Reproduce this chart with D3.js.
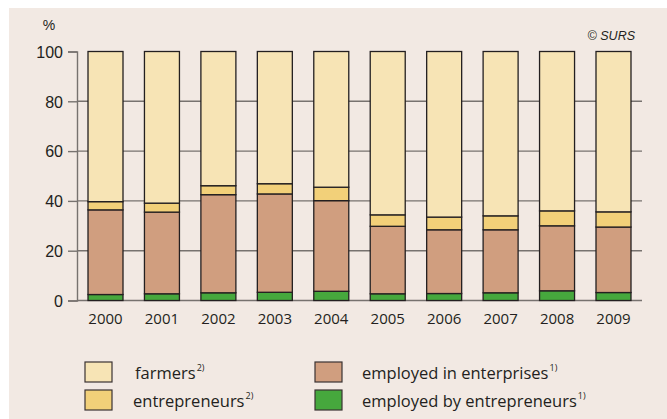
<!DOCTYPE html>
<html>
<head>
<meta charset="utf-8">
<script src="https://cdn.jsdelivr.net/npm/d3@7"></script>
<style>
  html, body { margin: 0; padding: 0; background: #ffffff; }
  svg { display: block; }
</style>
</head>
<body>
<svg id="chart" width="667" height="419"></svg>
<script>
// Structure of employment, share in %
const years = ["2000", "2001", "2002", "2003", "2004", "2005", "2006", "2007", "2008", "2009"];
const employedByEntrepreneurs = [2.4, 2.7, 3.1, 3.3, 3.7, 2.7, 2.8, 3.1, 3.9, 3.2];
const employedInEnterprises   = [34.0, 32.8, 39.4, 39.5, 36.4, 27.1, 25.6, 25.3, 26.1, 26.3];
const entrepreneurs           = [3.3, 3.6, 3.6, 4.1, 5.4, 4.6, 5.1, 5.6, 6.0, 6.1];
const farmers                 = [60.3, 60.9, 53.9, 53.1, 54.5, 65.6, 66.5, 66.0, 64.0, 64.4];
const yTicks = [0, 20, 40, 60, 80, 100];

// Stack order from the bottom up
const seriesKeys = ["employedByEntrepreneurs", "employedInEnterprises", "entrepreneurs", "farmers"];
const seriesValues = { employedByEntrepreneurs, employedInEnterprises, entrepreneurs, farmers };
const colors = {
  farmers: "#f7e4b5",
  entrepreneurs: "#f2d079",
  employedInEnterprises: "#d09e7f",
  employedByEntrepreneurs: "#46a83d"
};

const rows = years.map((y, i) => {
  const r = { year: y };
  seriesKeys.forEach(k => { r[k] = seriesValues[k][i]; });
  return r;
});
const stacked = d3.stack().keys(seriesKeys)(rows);

const svg = d3.select("#chart");

// panel background
svg.append("rect")
  .attr("x", 9).attr("y", 8).attr("width", 658).attr("height", 411)
  .attr("fill", "#f2e9e3");

const x = d3.scaleBand().domain(years).range([77, 642]).paddingInner(0.38).paddingOuter(0.195);
const y = d3.scaleLinear().domain([0, 100]).range([300.5, 51.5]);

const gridColor = "#77726f";

// horizontal grid lines behind the bars
svg.append("g").selectAll("line")
  .data(yTicks.filter(t => t > 0 && t < 100))
  .join("line")
  .attr("x1", 77).attr("x2", 642)
  .attr("y1", d => y(d)).attr("y2", d => y(d))
  .attr("stroke", gridColor).attr("stroke-width", 1.4);

// baseline
svg.append("line")
  .attr("x1", 77).attr("x2", 642)
  .attr("y1", y(0)).attr("y2", y(0))
  .attr("stroke", gridColor).attr("stroke-width", 1.4);

// y axis
const yAxis = d3.axisLeft(y).tickValues(yTicks).tickSize(9).tickPadding(5).tickFormat(d3.format("d"));
const gy = svg.append("g").attr("transform", "translate(77,0)").call(yAxis);
gy.select(".domain").attr("stroke", gridColor).attr("stroke-width", 1.4);
gy.selectAll(".tick line").attr("stroke", gridColor).attr("stroke-width", 1.4);
gy.selectAll(".tick text")
  .attr("fill", "#231f20")
  .attr("font-family", "'Liberation Sans', Arial, sans-serif")
  .attr("font-size", "16px")
  .attr("dy", "0.36em");

// unit label
svg.append("text")
  .attr("x", 49).attr("y", 30).attr("text-anchor", "middle")
  .attr("font-family", "'Liberation Sans', Arial, sans-serif")
  .attr("font-size", "14px").attr("fill", "#231f20")
  .text("%");

// source
svg.append("text")
  .attr("x", 635).attr("y", 40).attr("text-anchor", "end")
  .attr("font-family", "'Liberation Sans', Arial, sans-serif")
  .attr("font-style", "italic")
  .attr("font-size", "12.5px").attr("fill", "#231f20")
  .text("© SURS");

// stacked bars
svg.append("g").selectAll("g")
  .data(stacked)
  .join("g")
  .attr("fill", d => colors[d.key])
  .selectAll("rect")
  .data(d => d)
  .join("rect")
  .attr("x", d => x(d.data.year))
  .attr("width", x.bandwidth())
  .attr("y", d => y(d[1]))
  .attr("height", d => y(d[0]) - y(d[1]))
  .attr("stroke", "#231f20")
  .attr("stroke-width", 1.3);

// x axis labels
const xAxis = d3.axisBottom(x).tickSize(0).tickPadding(13);
const gx = svg.append("g").attr("transform", `translate(0,${y(0)})`).call(xAxis);
gx.select(".domain").remove();
gx.selectAll(".tick text")
  .attr("fill", "#231f20")
  .attr("font-family", "'Open Sans', sans-serif")
  .attr("font-size", "15px");

// legend
const legendItems = [
  { key: "farmers", label: "farmers", note: "2)", x: 85, y: 362 },
  { key: "entrepreneurs", label: "entrepreneurs", note: "2)", x: 85, y: 390 },
  { key: "employedInEnterprises", label: "employed in enterprises", note: "1)", x: 315, y: 362 },
  { key: "employedByEntrepreneurs", label: "employed by entrepreneurs", note: "1)", x: 315, y: 390 }
];
const lg = svg.append("g").selectAll("g").data(legendItems).join("g")
  .attr("transform", d => `translate(${d.x},${d.y})`);
lg.append("rect")
  .attr("width", 27).attr("height", 20)
  .attr("fill", d => colors[d.key])
  .attr("stroke", "#3a3332").attr("stroke-width", 1.2);
const lt = lg.append("text")
  .attr("x", d => d.key === "farmers" ? 50 : (d.key === "entrepreneurs" ? 48 : 47))
  .attr("y", 17)
  .attr("font-family", "'Open Sans', sans-serif")
  .attr("font-size", "16.5px")
  .attr("fill", "#231f20");
lt.append("tspan").text(d => d.label);
lt.append("tspan")
  .attr("font-size", "9px").attr("dy", "-8").attr("dx", "1")
  .text(d => d.note);
</script>
</body>
</html>
